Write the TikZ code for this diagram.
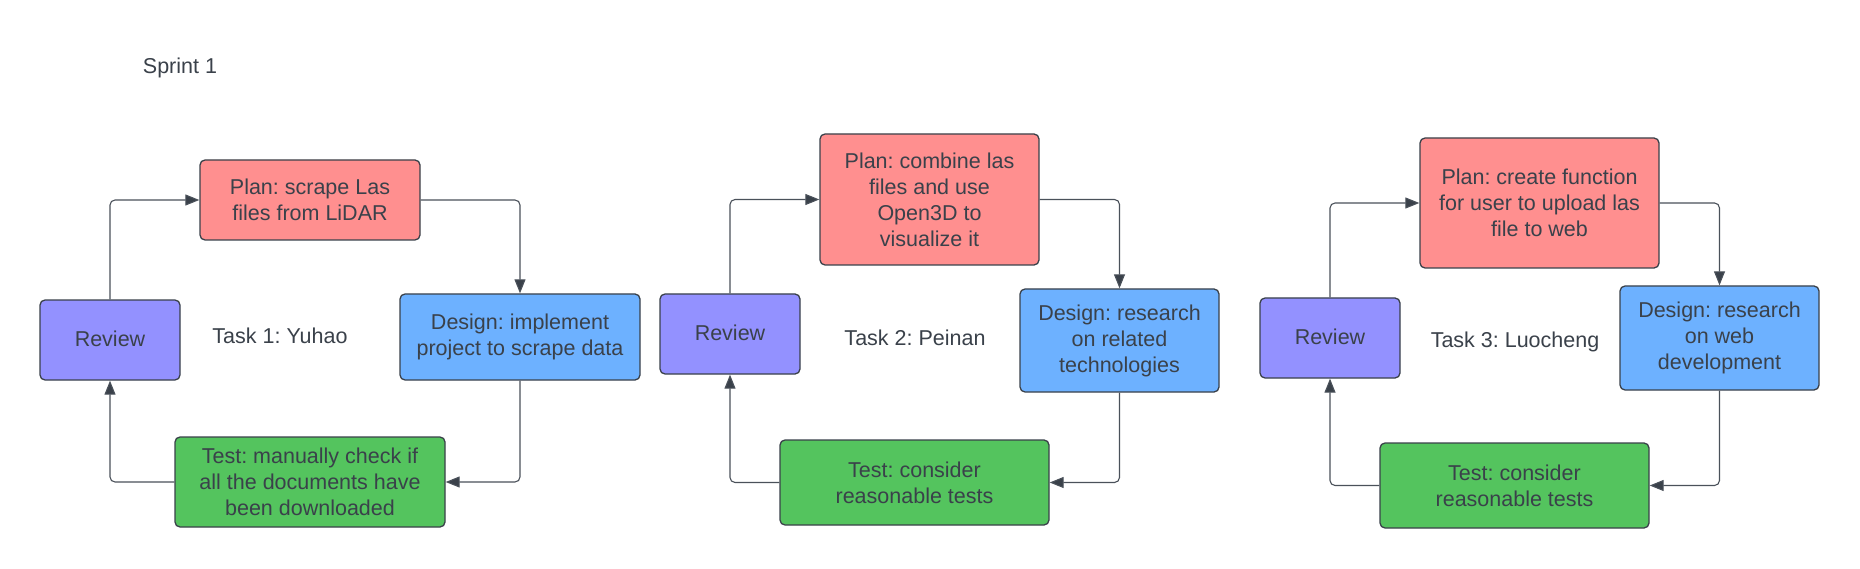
\documentclass[tikz,border=0pt]{standalone}
\usepackage{fontspec}
\setmainfont{Liberation Sans}
\usetikzlibrary{arrows.meta}
\definecolor{inkc}{HTML}{3A414A}
\definecolor{linec}{HTML}{4A515A}
\definecolor{planc}{HTML}{FF8F8F}
\definecolor{revc}{HTML}{9391FF}
\definecolor{desc}{HTML}{6DB1FF}
\definecolor{testc}{HTML}{54C45E}
\frenchspacing
\tikzset{
  box/.style={draw=inkc, line width=1.3pt, rounded corners=5pt, inner sep=0pt, align=center, text=inkc,
    font=\fontsize{21.5}{26}\selectfont},
  planbox/.style={box, fill=planc},
  revbox/.style={box, fill=revc},
  desbox/.style={box, fill=desc},
  testbox/.style={box, fill=testc},
  lbl/.style={text=inkc, inner sep=0pt, font=\fontsize{21.5}{26}\selectfont},
  conn/.style={draw=linec, line width=1.1pt, rounded corners=5pt, -{Triangle[length=14pt,width=11pt,fill=inkc]}}
}
\begin{document}
\begin{tikzpicture}[x=1pt, y=-1pt]
\useasboundingbox (0,0) rectangle (1860,569);
\fill[white] (0,0) rectangle (1860,569);
\node[lbl] (sprint) at (180,68) {Sprint 1};
% Task 1
\node[planbox, minimum width=220pt, minimum height=80pt] (p1) at (310,200) {Plan: scrape Las\\files from LiDAR};
\node[revbox, minimum width=140pt, minimum height=80pt] (r1) at (110,340) {\raisebox{3pt}{Review}};
\node[desbox, minimum width=240pt, minimum height=86pt] (d1) at (520,337) {Design: implement\\project to scrape data};
\node[testbox, minimum width=270pt, minimum height=90pt] (t1) at (310,482) {Test: manually check if\\all the documents have\\been downloaded};
\node[lbl] (k1) at (280,336) {Task 1: Yuhao};
\draw[conn] (r1.north) |- (p1.west);
\draw[conn] (p1.east) -| (d1.north);
\draw[conn] (d1.south) |- (t1.east);
\draw[conn] (t1.west) -| (r1.south);
% Task 2
\node[planbox, minimum width=219pt, minimum height=131pt] (p2) at (929.5,199.5) {Plan: combine las\\files and use\\Open3D to\\visualize it};
\node[revbox, minimum width=140pt, minimum height=80pt] (r2) at (730,334) {\raisebox{3pt}{Review}};
\node[desbox, minimum width=199pt, minimum height=103pt] (d2) at (1119.5,340.5) {Design: research\\on related\\technologies};
\node[testbox, minimum width=269pt, minimum height=85pt] (t2) at (914.5,482.5) {Test: consider\\reasonable tests};
\node[lbl] (k2) at (915,338) {Task 2: Peinan};
\draw[conn] (r2.north) |- (p2.west);
\draw[conn] (p2.east) -| (d2.north);
\draw[conn] (d2.south) |- (t2.east);
\draw[conn] (t2.west) -| (r2.south);
% Task 3
\node[planbox, minimum width=239pt, minimum height=130pt] (p3) at (1539.5,203) {Plan: create function\\for user to upload las\\file to web};
\node[revbox, minimum width=140pt, minimum height=80pt] (r3) at (1330,338) {\raisebox{3pt}{Review}};
\node[desbox, minimum width=199pt, minimum height=104pt] (d3) at (1719.5,338) {Design: research\\on web\\development};
\node[testbox, minimum width=269pt, minimum height=85pt] (t3) at (1514.5,485.5) {Test: consider\\reasonable tests};
\node[lbl] (k3) at (1515,342) {Task 3: Luocheng};
\draw[conn] (r3.north) |- (p3.west);
\draw[conn] (p3.east) -| (d3.north);
\draw[conn] (d3.south) |- (t3.east);
\draw[conn] (t3.west) -| (r3.south);
\end{tikzpicture}
\end{document}
